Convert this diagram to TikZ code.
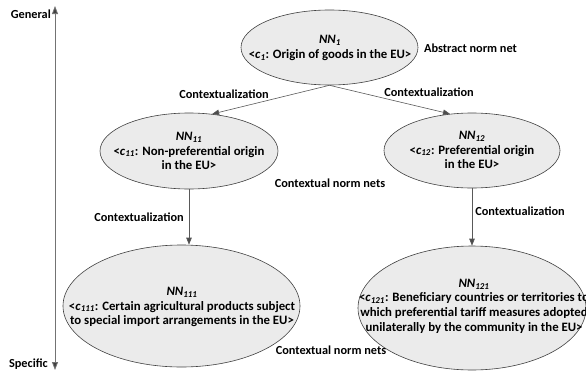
\documentclass[tikz,border=0pt]{standalone}
\usepackage{fontspec}
\setmainfont{Carlito}
\usetikzlibrary{shapes.geometric,arrows.meta}
\tikzset{
  ellip/.style={ellipse, draw=black!75, line width=0.6pt, fill=black!8, inner sep=0pt},
  txt/.style={font=\bfseries\fontsize{12.8}{14.6}\selectfont, align=center, inner sep=0pt},
  lbl/.style={font=\bfseries\fontsize{12.3}{14}\selectfont, inner sep=0pt},
  conn/.style={draw=black!65, line width=0.6pt, -{Triangle[length=7pt,width=5.5pt,fill=black!70]}},
  axis/.style={draw=black!55, line width=0.8pt, {Triangle[length=8pt,width=6pt,fill=black!75]}-{Triangle[length=8pt,width=6pt,fill=black!75]}}
}
\newcommand{\NN}[1]{\textit{NN}\textsubscript{\textit{#1}}}
\newcommand{\cc}[1]{\textit{c}\textsubscript{\textit{#1}}}
\begin{document}
\begin{tikzpicture}[x=1pt,y=-1pt]
\useasboundingbox (0,0) rectangle (586,375);
\clip (0,0) rectangle (586,375);
% axis
\coordinate (axtop) at (55,6);
\coordinate (axbot) at (55,370);
\draw[axis] (axbot) -- (axtop);
\node[lbl, anchor=east] (gen) at (51,14) {General};
\node[lbl, anchor=east] (spec) at (48,364) {Specific};
% ellipses
\node[ellip, minimum width=177pt, minimum height=75pt] (nn1) at (329.5,47.5) {};
\node[ellip, minimum width=178pt, minimum height=76pt] (nn11) at (189,151) {};
\node[ellip, minimum width=176pt, minimum height=75pt] (nn12) at (472,150.5) {};
\node[ellip, minimum width=237pt, minimum height=122pt] (nn111) at (181.5,306) {};
\node[ellip, minimum width=228pt, minimum height=124pt] (nn121) at (472,308) {};
% texts
\node[txt] (t1) at (330,48) {\NN{1}\\<\cc{1}: Origin of goods in the EU>};
\node[txt] (t11) at (189,151) {\NN{11}\\<\cc{11}: Non-preferential origin\\in the EU>};
\node[txt] (t12) at (472,150) {\NN{12}\\<\cc{12}: Preferential origin\\in the EU>};
\node[txt] (t111) at (182,307) {\NN{111}\\<\cc{111}: Certain agricultural products subject\\to special import arrangements in the EU>};
\node[txt] (t121) at (474,306) {\NN{121}\\<\cc{121}: Beneficiary countries or territories to\\which preferential tariff measures adopted\\unilaterally by the community in the EU>};
% connectors
\draw[conn] (nn1.south) -- (nn11.58);
\draw[conn] (nn1.south) -- (nn12.121);
\draw[conn] (nn11.south) -- (nn11.south |- nn111.north);
\draw[conn] (nn12.south) -- (nn12.south |- nn121.north);
% labels
\node[lbl] (c1) at (224,94) {Contextualization};
\node[lbl] (c2) at (429,92) {Contextualization};
\node[lbl] (c3) at (139,217) {Contextualization};
\node[lbl] (c4) at (520,211) {Contextualization};
\node[lbl, anchor=west] (abs) at (424,48) {Abstract norm net};
\node[lbl] (cn1) at (330,183) {Contextual norm nets};
\node[lbl] (cn2) at (331,350) {Contextual norm nets};
\end{tikzpicture}
\end{document}
